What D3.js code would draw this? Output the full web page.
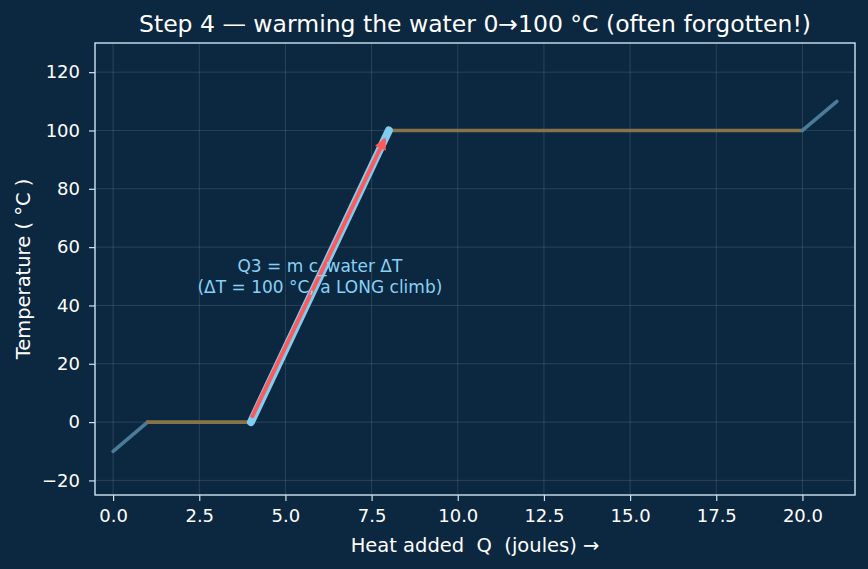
<!DOCTYPE html>
<html>
<head>
<meta charset="utf-8">
<script src="https://cdn.jsdelivr.net/npm/d3@7"></script>
<style>
  body { margin: 0; background: #0c2740; }
  text { font-family: "DejaVu Sans", sans-serif; white-space: pre; }
</style>
</head>
<body>
<div id="chart"></div>
<script>
// heating curve of water: Q (joules) vs temperature
const phaseNames = ["ice", "melting", "water", "boiling", "steam"];
const heatPoints = [0, 1, 4, 8, 20, 21];
const tempPoints = [-10, 0, 0, 100, 100, 110];
const phaseColors = ["#4a7c9a", "#85744a", "#7fcdf2", "#85744a", "#4a7c9a"];
const xTicks = [0, 2.5, 5, 7.5, 10, 12.5, 15, 17.5, 20];
const yTicks = [-20, 0, 20, 40, 60, 80, 100, 120];
const activePhase = 2;
const noteLines = ["Q3 = m c_water \u0394T", "(\u0394T = 100 \u00b0C, a LONG climb)"];
const notePos = [6.0, 50];

const width = 868, height = 569;
const margin = { top: 43, right: 13, bottom: 74, left: 95 };

const svg = d3.select("#chart").append("svg")
    .attr("width", width)
    .attr("height", height);

svg.append("rect").attr("width", width).attr("height", height).attr("fill", "#0c2740");

const x = d3.scaleLinear()
    .domain([-0.525, 21.525])
    .range([margin.left, width - margin.right]);

const y = d3.scaleLinear()
    .domain([-25, 130])
    .range([height - margin.bottom, margin.top]);

// grid
const grid = svg.append("g").attr("stroke", "#ffffff").attr("stroke-opacity", 0.16).attr("stroke-width", 0.8);
xTicks.forEach(t => grid.append("line")
    .attr("x1", x(t)).attr("x2", x(t))
    .attr("y1", margin.top).attr("y2", height - margin.bottom));
yTicks.forEach(t => grid.append("line")
    .attr("x1", margin.left).attr("x2", width - margin.right)
    .attr("y1", y(t)).attr("y2", y(t)));

// faded phases
const segs = phaseNames.map((p, i) => ({
    name: p, color: phaseColors[i],
    x0: heatPoints[i], x1: heatPoints[i + 1],
    y0: tempPoints[i], y1: tempPoints[i + 1]
}));

svg.selectAll("line.phase")
    .data(segs.filter((d, i) => i !== activePhase))
    .enter().append("line")
    .attr("class", "phase")
    .attr("x1", d => x(d.x0)).attr("y1", d => y(d.y0))
    .attr("x2", d => x(d.x1)).attr("y2", d => y(d.y1))
    .attr("stroke", d => d.color)
    .attr("stroke-width", 3.6)
    .attr("stroke-linecap", "round");

// highlighted phase
const act = segs[activePhase];
svg.append("line")
    .attr("x1", x(act.x0)).attr("y1", y(act.y0))
    .attr("x2", x(act.x1)).attr("y2", y(act.y1))
    .attr("stroke", act.color)
    .attr("stroke-width", 8)
    .attr("stroke-linecap", "round");

// arrow along the climb
svg.append("defs").append("marker")
    .attr("id", "head")
    .attr("viewBox", "0 0 10 10")
    .attr("refX", 7).attr("refY", 5)
    .attr("markerWidth", 3.2).attr("markerHeight", 3)
    .attr("markerUnits", "strokeWidth")
    .attr("orient", "auto")
    .append("path").attr("d", "M0,0 L10,5 L0,10 Z").attr("fill", "#ff5a5a");

const ax0 = act.x0 + 0.01 * (act.x1 - act.x0), ay0 = act.y0 + 0.02 * (act.y1 - act.y0);
const ax1 = act.x0 + 0.965 * (act.x1 - act.x0), ay1 = act.y0 + 0.965 * (act.y1 - act.y0);
svg.append("line")
    .attr("x1", x(ax0)).attr("y1", y(ay0))
    .attr("x2", x(ax1)).attr("y2", y(ay1))
    .attr("stroke", "#ff5a5a")
    .attr("stroke-width", 4)
    .attr("stroke-linecap", "round")
    .attr("marker-end", "url(#head)");

// note
const note = svg.append("text")
    .attr("x", x(notePos[0]))
    .attr("y", y(notePos[1]))
    .attr("text-anchor", "middle")
    .attr("fill", "#86d2f5")
    .style("font-size", "17px");
noteLines.forEach((t, i) => note.append("tspan")
    .attr("x", x(notePos[0]))
    .attr("dy", i === 0 ? -4 : 21)
    .text(t));

// axes
const axisColor = "#cfe3f3";
const gx = svg.append("g")
    .attr("transform", `translate(0,${height - margin.bottom})`)
    .call(d3.axisBottom(x).tickValues(xTicks).tickFormat(d3.format(".1f")).tickSize(6).tickPadding(8).tickSizeOuter(0));
const gy = svg.append("g")
    .attr("transform", `translate(${margin.left},0)`)
    .call(d3.axisLeft(y).tickValues(yTicks).tickFormat(d => d < 0 ? "\u2212" + Math.abs(d) : d).tickSize(6).tickPadding(9).tickSizeOuter(0));
[gx, gy].forEach(g => {
    g.select(".domain").remove();
    g.selectAll("line").attr("stroke", axisColor).attr("stroke-width", 1.2);
    g.selectAll("text").attr("fill", "#ffffff")
        .style("font-size", "18px")
        .style("font-family", "DejaVu Sans, sans-serif");
});

svg.append("rect")
    .attr("x", margin.left).attr("y", margin.top)
    .attr("width", width - margin.left - margin.right)
    .attr("height", height - margin.top - margin.bottom)
    .attr("fill", "none")
    .attr("stroke", axisColor)
    .attr("stroke-width", 1.4);

// labels
svg.append("text")
    .attr("x", (margin.left + width - margin.right) / 2)
    .attr("y", 32)
    .attr("text-anchor", "middle")
    .attr("fill", "#ffffff")
    .style("font-size", "23.5px")
    .text("Step 4 \u2014 warming the water 0\u2192100 \u00b0C (often forgotten!)");

svg.append("text")
    .attr("x", (margin.left + width - margin.right) / 2)
    .attr("y", 552)
    .attr("text-anchor", "middle")
    .attr("fill", "#ffffff")
    .style("font-size", "19.5px")
    .text("Heat added  Q  (joules) \u2192");

svg.append("text")
    .attr("transform", `translate(30,${(margin.top + height - margin.bottom) / 2}) rotate(-90)`)
    .attr("text-anchor", "middle")
    .attr("fill", "#ffffff")
    .style("font-size", "19.5px")
    .text("Temperature ( \u00b0C )");
</script>
</body>
</html>
